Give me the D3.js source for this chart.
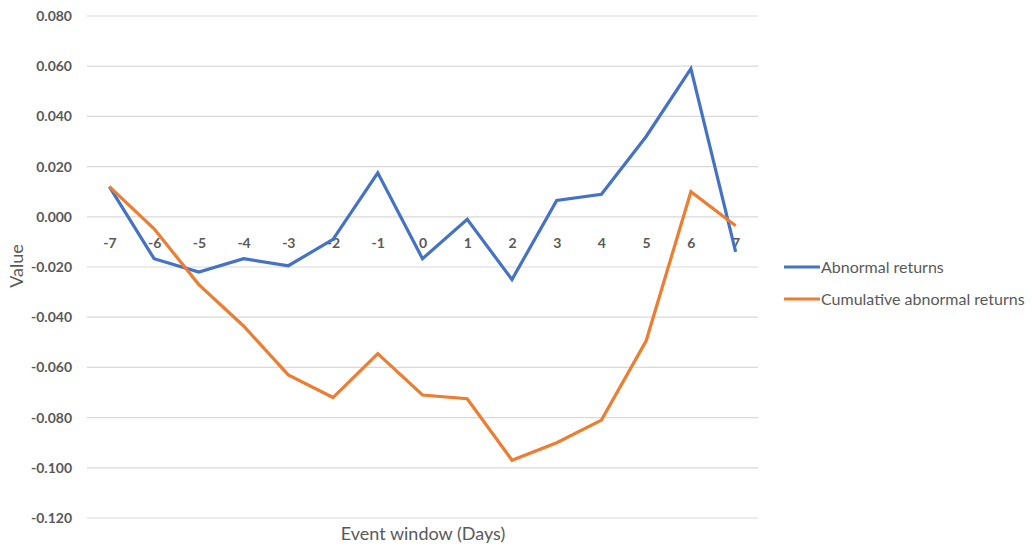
<!DOCTYPE html>
<html>
<head>
<meta charset="utf-8">
<script src="https://cdn.jsdelivr.net/npm/d3@7"></script>
<style>
  html, body { margin: 0; padding: 0; background: #fff; }
  svg { display: block; }
  text { font-family: Lato, "Open Sans", "Liberation Sans", sans-serif; }
</style>
</head>
<body>
<svg id="chart" width="1032" height="547"></svg>
<script>
const days = ["-7","-6","-5","-4","-3","-2","-1","0","1","2","3","4","5","6","7"];
const abnormalReturns = [0.012, -0.0167, -0.022, -0.0167, -0.0195, -0.009, 0.0175, -0.0167, -0.001, -0.025, 0.0065, 0.009, 0.032, 0.059, -0.014];
const cumulativeAbnormalReturns = [0.012, -0.0048, -0.027, -0.0435, -0.063, -0.072, -0.0545, -0.071, -0.0725, -0.097, -0.090, -0.081, -0.0494, 0.010, -0.0036];
const yTicks = [0.08, 0.06, 0.04, 0.02, 0, -0.02, -0.04, -0.06, -0.08, -0.10, -0.12];
const seriesNames = ["Abnormal returns", "Cumulative abnormal returns"];
const seriesColors = ["#4472C4", "#ED7D31"];

const svg = d3.select("#chart");
const plotLeft = 87, plotRight = 758, plotTop = 16, plotBottom = 518;

const x = d3.scalePoint().domain(days).range([plotLeft, plotRight]).padding(0.5);
const y = d3.scaleLinear().domain([-0.12, 0.08]).range([plotBottom, plotTop]);

const fmt = d3.formatLocale({decimal: ".", thousands: ",", grouping: [3], currency: ["", ""], minus: "-"}).format(".3f");

// gridlines
svg.append("g").selectAll("line").data(yTicks).join("line")
  .attr("x1", plotLeft).attr("x2", plotRight)
  .attr("y1", d => y(d)).attr("y2", d => y(d))
  .attr("stroke", "#d9d9d9").attr("stroke-width", 1.2);

// y axis labels
const yAxis = d3.axisLeft(y).tickValues(yTicks).tickFormat(fmt).tickSize(0).tickPadding(0);
const gy = svg.append("g").attr("transform", `translate(${plotLeft - 15},0)`).call(yAxis);
gy.select(".domain").remove();
gy.selectAll("text")
  .attr("fill", "#595959").attr("font-size", 14).attr("font-weight", "bold")
  .style("font-family", "Lato, 'Open Sans', sans-serif");

// x axis labels at zero
const xAxis = d3.axisBottom(x).tickSize(0).tickPadding(0);
const gx = svg.append("g").attr("transform", `translate(0,${y(0) + 31})`).call(xAxis);
gx.select(".domain").remove();
gx.selectAll("text")
  .attr("fill", "#595959").attr("font-size", 14).attr("font-weight", "bold")
  .attr("dy", "0")
  .style("font-family", "Lato, 'Open Sans', sans-serif");

// lines
const line = d3.line().x((d, i) => x(days[i])).y(d => y(d));
[abnormalReturns, cumulativeAbnormalReturns].forEach((s, k) => {
  svg.append("path").datum(s)
    .attr("d", line)
    .attr("fill", "none")
    .attr("stroke", seriesColors[k])
    .attr("stroke-width", 3.2)
    .attr("stroke-linejoin", "miter")
    .attr("stroke-linecap", "butt");
});

// axis titles
svg.append("text")
  .attr("transform", `translate(23,266) rotate(-90)`)
  .attr("text-anchor", "middle")
  .attr("fill", "#595959").attr("font-size", 18)
  .text("Value");

svg.append("text")
  .attr("x", 423).attr("y", 540)
  .attr("text-anchor", "middle")
  .attr("fill", "#595959").attr("font-size", 18)
  .text("Event window (Days)");

// legend
const lg = svg.append("g");
seriesNames.forEach((n, k) => {
  const ly = 267 + k * 32;
  lg.append("line").attr("x1", 784).attr("x2", 820).attr("y1", ly).attr("y2", ly)
    .attr("stroke", seriesColors[k]).attr("stroke-width", 3.2);
  lg.append("text").attr("x", 821).attr("y", ly + 5.5)
    .attr("fill", "#595959").attr("font-size", 16)
    .text(n);
});
</script>
</body>
</html>
